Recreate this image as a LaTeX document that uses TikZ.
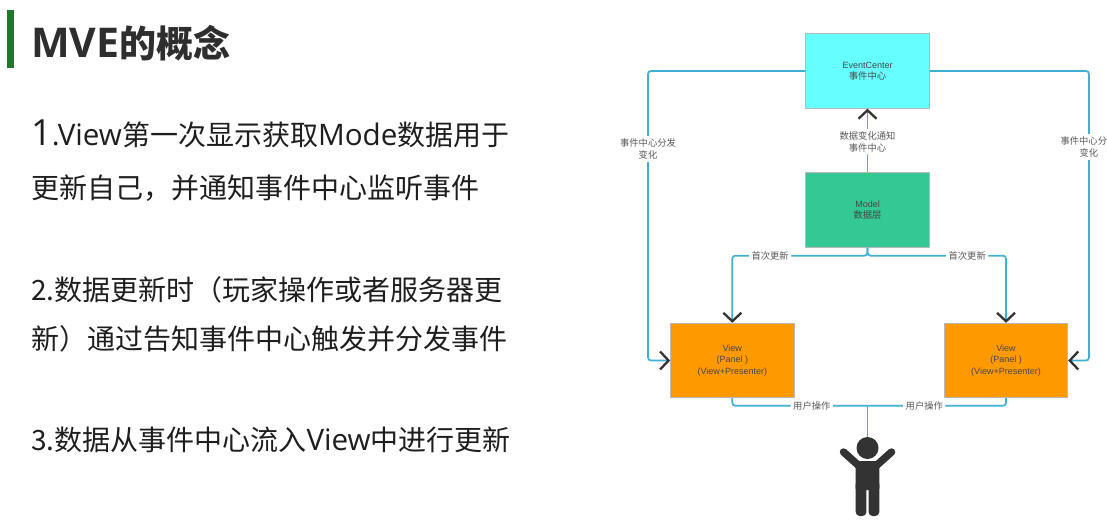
\documentclass[tikz,border=0pt]{standalone}
\usepackage{xcolor}
\usepackage{fontspec}
\setmainfont{Noto Sans CJK SC}
\newfontfamily\latinbody{Open Sans}
\newfontfamily\latinbox{Liberation Sans}
\newcommand{\bodylatin}[1]{{\latinbody\fontsize{29.6}{34}\selectfont #1}}
\usetikzlibrary{arrows.meta,positioning}
\definecolor{linkblue}{RGB}{62,176,212}
\definecolor{tipdark}{RGB}{51,51,51}
\definecolor{boxedge}{RGB}{185,185,185}
\definecolor{softcyan}{RGB}{102,255,255}
\definecolor{softgreen}{RGB}{51,200,148}
\definecolor{softorange}{RGB}{255,153,0}
\definecolor{barleaf}{RGB}{31,120,44}
\definecolor{bodytext}{RGB}{30,30,30}
\tikzset{
  link/.style={line width=1.7pt, draw=linkblue, rounded corners=3pt},
  flow/.style={link, -{Straight Barb[length=8.5pt,width=18pt,line width=2.3pt,color=tipdark]}},
  box/.style={
    draw=boxedge,
    line width=0.8pt,
    minimum width=123.5pt,
    minimum height=74.5pt,
    align=center,
    inner sep=2pt,
    text=black!72,
    font=\fontsize{9.3}{11.4}\selectfont
  },
  edgelabel/.style={
    fill=white,
    align=center,
    inner sep=2.5pt,
    text=black!65,
    font=\fontsize{9.3}{11.6}\selectfont
  },
  bodyline/.style={anchor=west, inner sep=0pt, text=bodytext, font=\fontsize{28}{34}\selectfont},
  figure/.style={fill=tipdark, draw=none}
}
\begin{document}
\begin{tikzpicture}[x=1pt,y=-1pt]
  \useasboundingbox (0,0) rectangle (1107,523);

  \node[fill=barleaf,minimum width=7.5pt,minimum height=58pt,inner sep=0pt] (titlebar) at (10.5,39) {};
  \node[anchor=west,inner sep=0pt,text=black!82,font=\fontsize{37}{44}\bfseries\selectfont] (title) at (31,43) {{\latinbody\fontsize{41}{44}\selectfont MVE}的概念};
  \node[bodyline] (line1a) at (31,134) {{\latinbody\fontsize{36}{34}\selectfont 1}\bodylatin{.View}第一次显示获取\bodylatin{Mode}数据用于};
  \node[bodyline] (line1b) at (31,188) {更新自己，并通知事件中心监听事件};
  \node[bodyline] (line2a) at (31,290) {2.数据更新时（玩家操作或者服务器更};
  \node[bodyline] (line2b) at (31,339) {新）通过告知事件中心触发并分发事件};
  \node[bodyline] (line3) at (31,440) {3.数据从事件中心流入\bodylatin{View}中进行更新};

  \node[box,fill=softcyan] (center) at (867.5,71) {{\latinbox\fontsize{9}{11.4}\selectfont EventCenter}\\事件中心};
  \node[box,fill=softgreen] (model) at (867.5,210) {{\latinbox\fontsize{9}{11.4}\selectfont Model}\\数据层};
  \node[box,fill=softorange,font=\latinbox\fontsize{9}{11.4}\selectfont] (viewL) at (732.3,360.5) {View\\(Panel )\\(View+Presenter)};
  \node[box,fill=softorange,font=\latinbox\fontsize{9}{11.4}\selectfont] (viewR) at (1006,360.5) {View\\(Panel )\\(View+Presenter)};
  \node[circle,figure,minimum size=22pt,inner sep=0pt] (head) at (867.5,448) {};

  \coordinate (railL) at (648,149);
  \coordinate (railR) at (1089,147);
  \coordinate (userjoin) at (867.5,405.7);

  \draw[flow] (center.west) -| (railL) |- (viewL.west);
  \draw[flow] (center.east) -| (railR) |- (viewR.east);
  \node[edgelabel] (shareL) at (railL) {事件中心分发\\变化};
  \node[edgelabel,inner xsep=0pt] (shareR) at (1083.8,147) {事件中心分\\\hspace*{10pt}变化};

  \draw[flow] (model.north) -- node[edgelabel,pos=0.482] (notify) {数据变化通知\\事件中心} (center.south);

  \draw[flow] (model.south) -- ++(0,8) -| node[edgelabel,pos=0.36] (firstL) {首次更新} (viewL.north);
  \draw[flow] (model.south) -- ++(0,8) -| node[edgelabel,pos=0.36] (firstR) {首次更新} (viewR.north);

  \draw[link] (viewL.south) |- node[edgelabel,pos=0.794] (userL) {用户操作} (userjoin);
  \draw[link] (viewR.south) |- node[edgelabel,pos=0.795] (userR) {用户操作} (userjoin);
  \draw[link] (userjoin) -- (head.north);

  \draw[tipdark,line width=7.5pt,line cap=round] (843.5,452) -- (858,465);
  \draw[tipdark,line width=7.5pt,line cap=round] (891.5,452) -- (877,465);
  \fill[figure,rounded corners=1.5pt] (855.7,461) rectangle (879.3,490);
  \fill[figure,rounded corners=4pt] (855.7,480) rectangle (866.4,516);
  \fill[figure,rounded corners=4pt] (868.6,480) rectangle (879.3,516);
\end{tikzpicture}
\end{document}
